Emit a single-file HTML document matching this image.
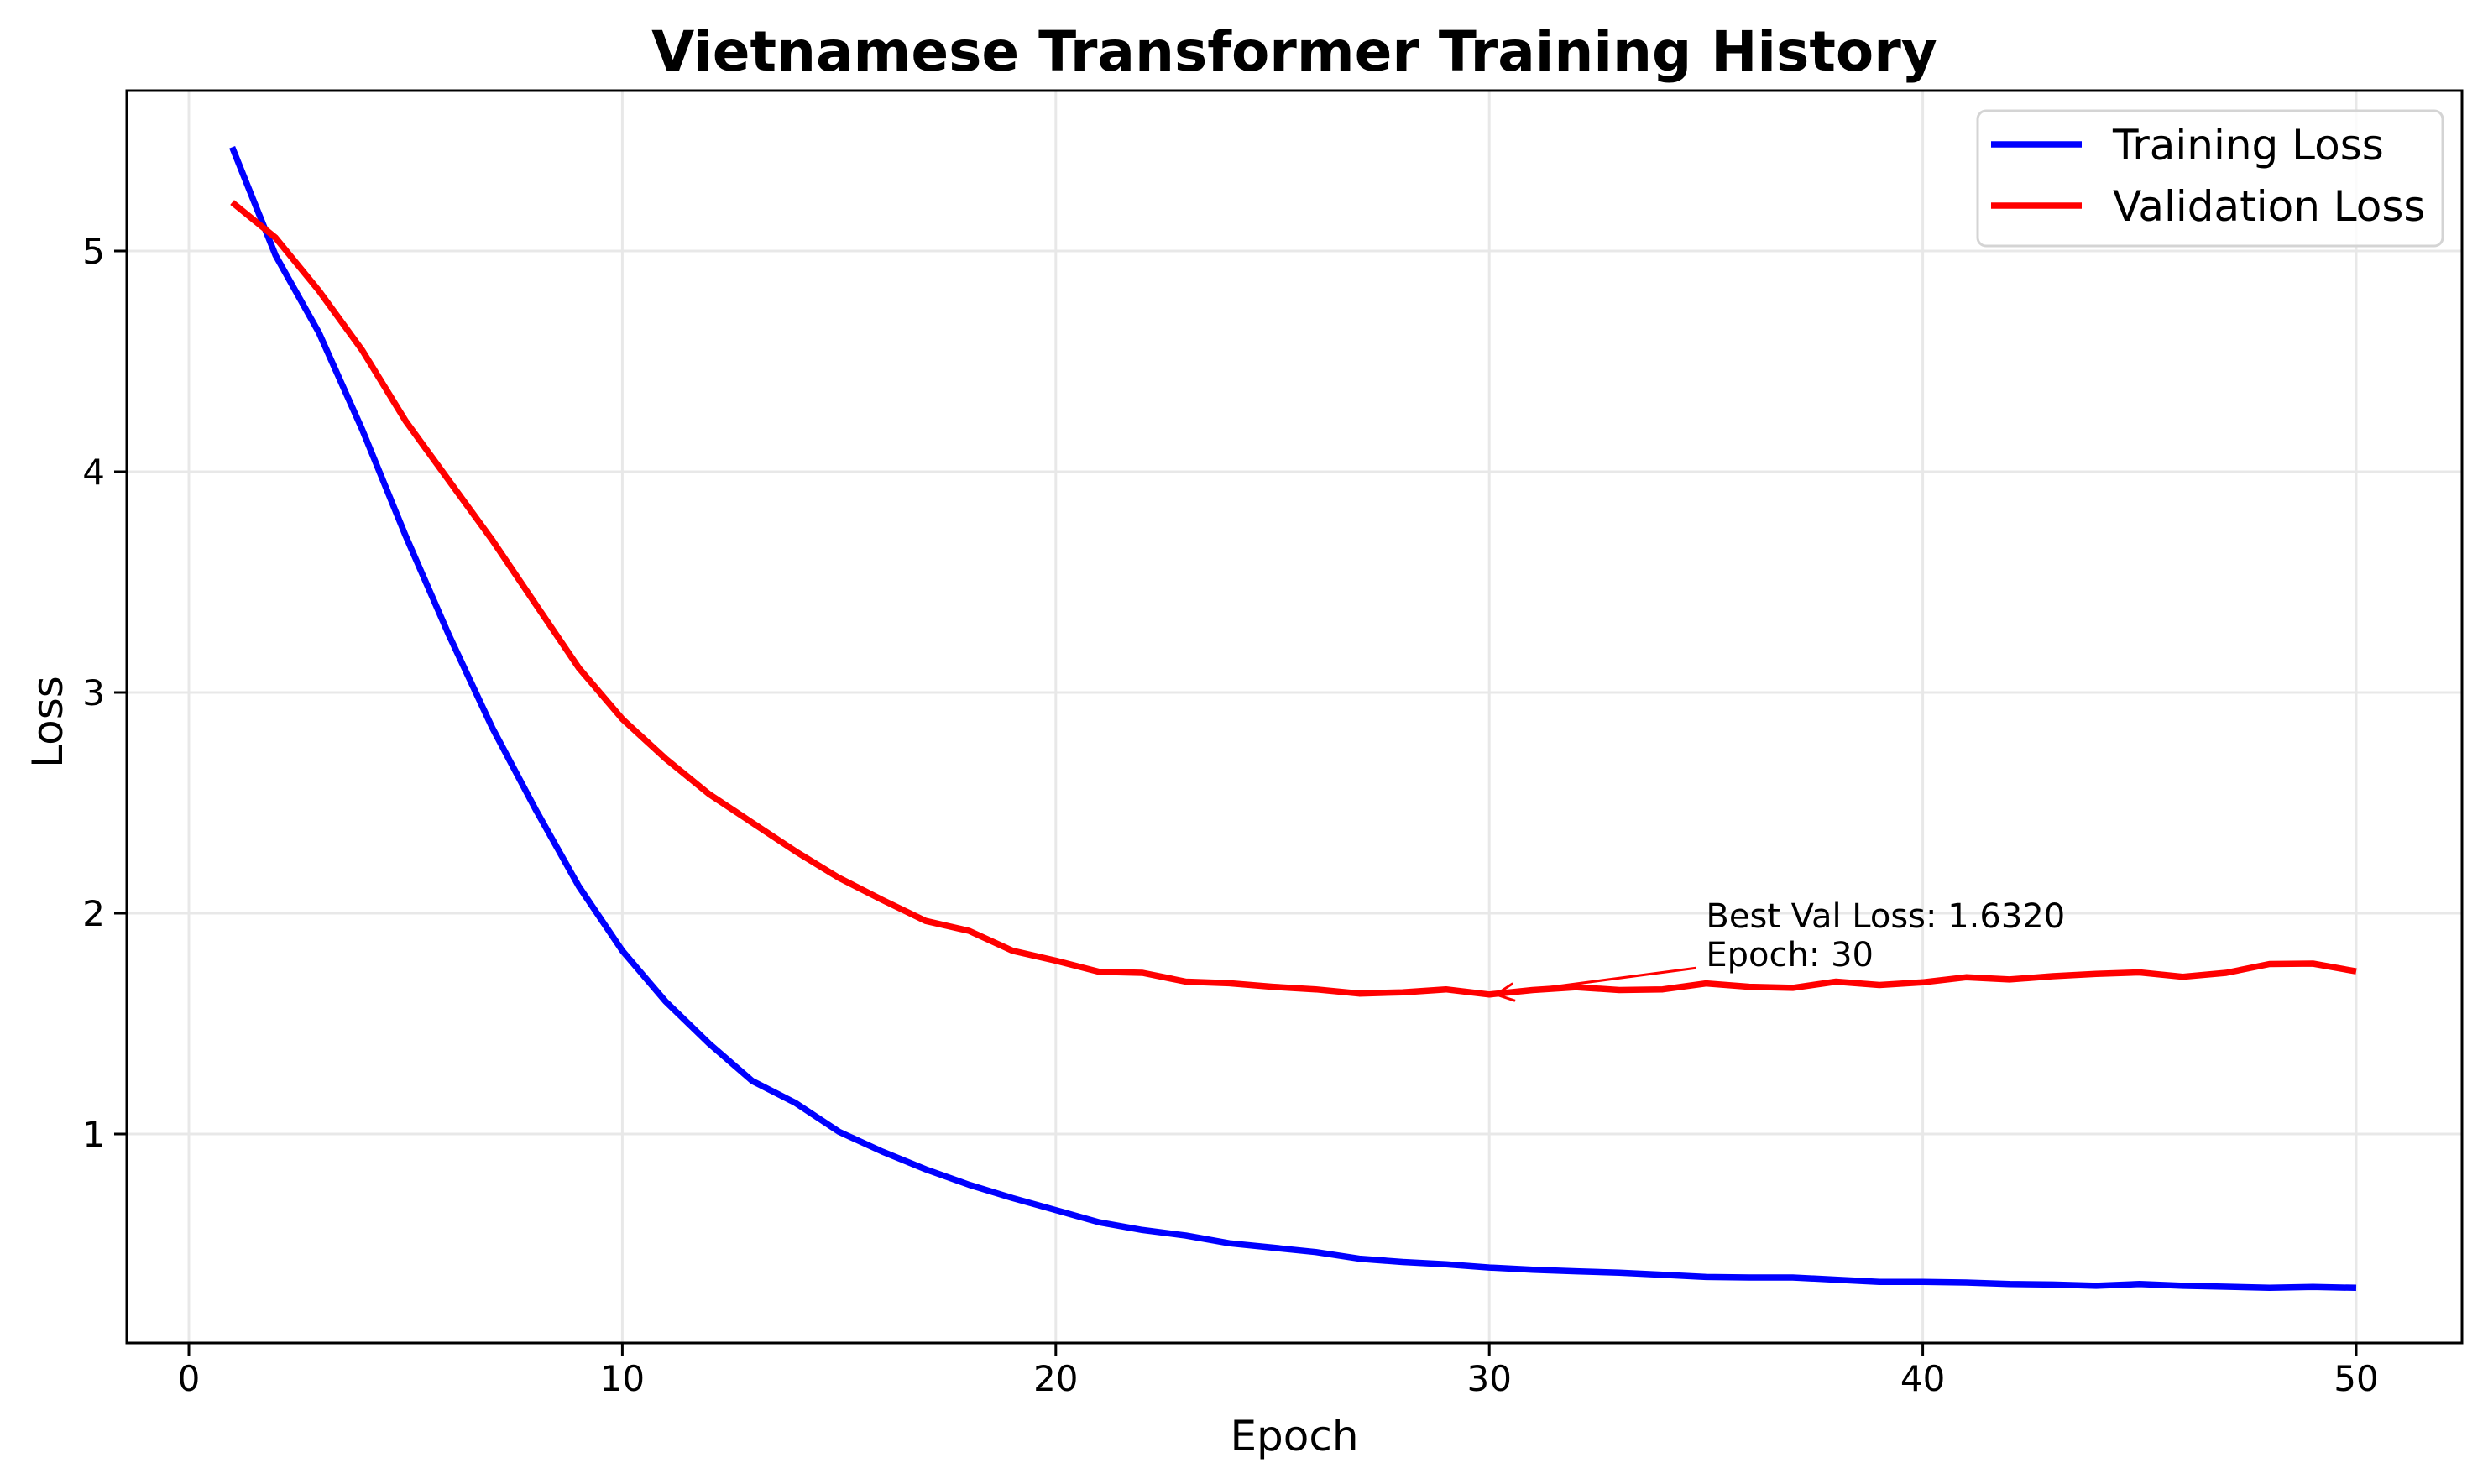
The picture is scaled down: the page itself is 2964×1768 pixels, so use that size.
<!DOCTYPE html>
<html><head><meta charset="utf-8"><style>
html,body{margin:0;padding:0;background:#fff;}
svg{display:block;font-family:"DejaVu Sans","Liberation Sans",sans-serif;}
</style></head><body>
<svg id="chart" width="2964" height="1768" viewBox="0 0 2964 1768" xmlns="http://www.w3.org/2000/svg">
<rect x="0" y="0" width="2964" height="1768" fill="#fff"/>
<g id="grid"></g>
<g id="series"></g>
<g id="axes"></g>
<text x="1542" y="84" text-anchor="middle" font-size="66" font-weight="bold">Vietnamese Transformer Training History</text>
<text x="1542" y="1728" text-anchor="middle" font-size="50">Epoch</text>
<text x="0" y="0" transform="translate(74,860) rotate(-90)" text-anchor="middle" font-size="50">Loss</text>
<g>
<rect x="2356" y="132" width="554" height="161" rx="10" fill="#fff" fill-opacity="0.8" stroke="#d4d4d4" stroke-width="3"/>
<line x1="2372" y1="172" x2="2480" y2="172" stroke="#0000ff" stroke-width="7.5"/>
<text x="2517" y="190" font-size="50">Training Loss</text>
<line x1="2372" y1="245" x2="2480" y2="245" stroke="#ff0000" stroke-width="7.5"/>
<text x="2517" y="263" font-size="50">Validation Loss</text>
</g>
<g id="annot"></g>
</svg>
<script>
const epochs = Array.from({length:50},(_, i)=>i+1);
const trainLoss = [5.47,4.98,4.63,4.19,3.71,3.26,2.84,2.47,2.12,1.83,1.60,1.41,1.24,1.14,1.01,0.92,0.84,0.77,0.71,0.655,0.60,0.565,0.54,0.505,0.485,0.465,0.435,0.42,0.41,0.395,0.385,0.378,0.372,0.362,0.352,0.35,0.35,0.34,0.33,0.33,0.327,0.32,0.318,0.312,0.32,0.312,0.308,0.303,0.307,0.303];
const valLoss = [5.22,5.06,4.82,4.55,4.23,3.96,3.69,3.40,3.11,2.88,2.70,2.54,2.41,2.28,2.16,2.06,1.965,1.92,1.83,1.785,1.735,1.73,1.69,1.683,1.667,1.655,1.636,1.642,1.655,1.632,1.652,1.665,1.652,1.655,1.682,1.667,1.662,1.69,1.675,1.687,1.71,1.70,1.715,1.725,1.732,1.712,1.73,1.77,1.772,1.737];
const xTicks = [0,10,20,30,40,50];
const yTicks = [1,2,3,4,5];
const bestEpoch = 30, bestVal = 1.632;

const L=151,R=2933,T=108,B=1600;
const X0=225, PXE=51.64;
const xs = v => X0 + v*PXE;
const ys = v => 299 + (5-v)*263;
const NS="http://www.w3.org/2000/svg";
function mk(tag, attrs, parent){const e=document.createElementNS(NS,tag);for(const k in attrs)e.setAttribute(k,attrs[k]);parent.appendChild(e);return e;}
const grid=document.getElementById('grid'), axes=document.getElementById('axes'), series=document.getElementById('series'), annot=document.getElementById('annot');
xTicks.forEach(t=>{
  const g=mk('line',{x1:xs(t),x2:xs(t),y1:T,y2:B,stroke:'#e8e8e8','stroke-width':3},grid);
  
  
  const tk=mk('line',{x1:xs(t),x2:xs(t),y1:B,y2:B+15,stroke:'#000','stroke-width':3},axes);
  
  
  const tx=mk('text',{x:xs(t),y:B+57,'text-anchor':'middle','font-size':42},axes);
  
  
  tx.textContent=t;
});
yTicks.forEach(t=>{
  const g=mk('line',{x1:L,x2:R,y1:ys(t),y2:ys(t),stroke:'#e8e8e8','stroke-width':3},grid);
  
  
  const tk=mk('line',{x1:L-15,x2:L,y1:ys(t),y2:ys(t),stroke:'#000','stroke-width':3},axes);
  
  
  const tx=mk('text',{x:L-26,y:ys(t)+15,'text-anchor':'end','font-size':42},axes);
  
  
  tx.textContent=t;
});
const frame=mk('rect',{x:L,y:T,width:R-L,height:B-T,fill:'none',stroke:'#000','stroke-width':3},axes);


function line(vals,color,name){
  const d=vals.map((v,i)=>(i?'L':'M')+xs(epochs[i]).toFixed(1)+' '+ys(v).toFixed(1)).join(' ');
  const p=mk('path',{d:d,fill:'none',stroke:color,'stroke-width':7.5,'stroke-linejoin':'round'},series);
  
  
}
line(trainLoss,'#0000ff','training-loss-line');
line(valLoss,'#ff0000','validation-loss-line');
const ax=xs(bestEpoch)+8, ay=ys(bestVal), tx0=xs(35)-12, ty0=ys(bestVal+0.12);
const ar=mk('line',{x1:tx0,y1:ty0,x2:ax+14,y2:ay-2,stroke:'#ff0000','stroke-width':3},annot);


const ang=Math.atan2(ty0-ay,tx0-ax);
const hx=ax, hy=ay;
const hd=mk('path',{d:`M${hx+24*Math.cos(ang+0.45)} ${hy+24*Math.sin(ang+0.45)} L${hx} ${hy} L${hx+24*Math.cos(ang-0.45)} ${hy+24*Math.sin(ang-0.45)}`,fill:'none',stroke:'#ff0000','stroke-width':3},annot);


const t1=mk('text',{x:xs(35),y:ys(bestVal+0.12)-48,'font-size':40},annot);


t1.textContent='Best Val Loss: '+bestVal.toFixed(4);
const t2=mk('text',{x:xs(35),y:ys(bestVal+0.12)-2,'font-size':40},annot);


t2.textContent='Epoch: '+bestEpoch;
</script>
</body></html>
